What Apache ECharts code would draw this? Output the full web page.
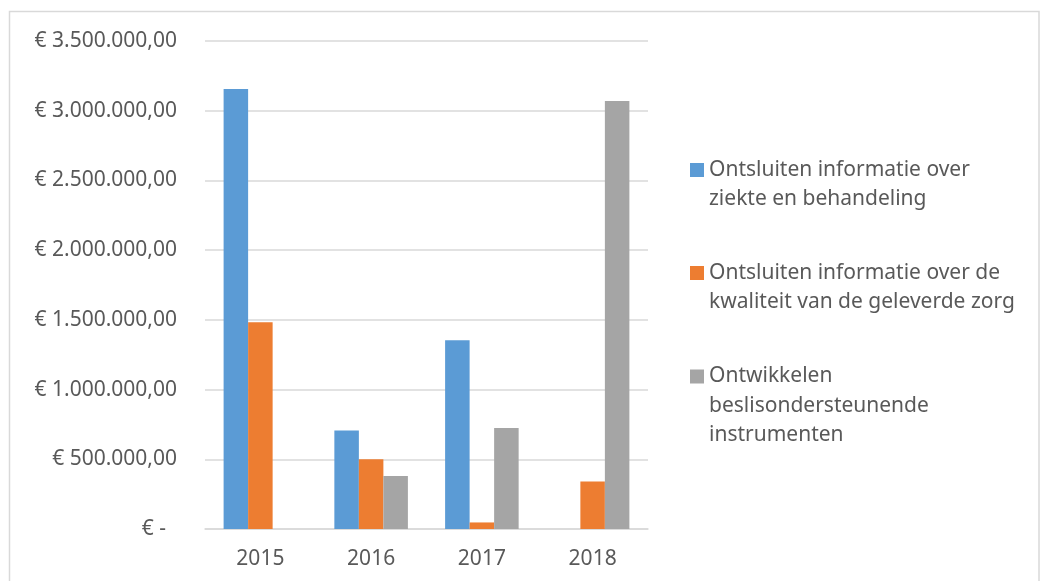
<!DOCTYPE html>
<html>
<head>
<meta charset="utf-8">
<script src="https://cdn.jsdelivr.net/npm/echarts@6/dist/echarts.min.js"></script>
<style>html,body{margin:0;padding:0;background:#fff}</style>
</head>
<body>
<div id="chart" style="width:1042px;height:581px"></div>
<script>
// jaren op de x-as
var years = ['2015', '2016', '2017', '2018'];

var seriesNames = [
    'Ontsluiten informatie over ziekte en behandeling',
    'Ontsluiten informatie over de kwaliteit van de geleverde zorg',
    'Ontwikkelen beslisondersteunende instrumenten'
];
// legenda-tekst zoals in het origineel afgebroken
var legendLines = [
    ['Ontsluiten informatie over', 'ziekte en behandeling'],
    ['Ontsluiten informatie over de', 'kwaliteit van de geleverde zorg'],
    ['Ontwikkelen', 'beslisondersteunende', 'instrumenten']
];

// bedragen in euro per jaar
var ziekteBehandeling = [3155000, 707000, 1354000, 0];
var kwaliteitZorg = [1483000, 500000, 47000, 341000];
var beslisInstrumenten = [0, 380000, 724000, 3070000];

var yMin = 0, yMax = 3500000, yStep = 500000;

var colors = ['#5B9BD5', '#ED7D31', '#A5A5A5'];
var textColor = '#595959';
var font = 'Noto Sans';
var fontSize = 21;

function euro(v) {
    if (v === 0) return '€ -  ';
    var s = Math.round(v).toString().replace(/\B(?=(\d{3})+(?!\d))/g, '.');
    return '€ ' + s + ',00';
}

var myChart = echarts.init(document.getElementById('chart'), null, {renderer: 'canvas'});

var lineH = 29.5;
var legendCenters = [170, 273, 376.5];
// het icoon staat bij de eerste regel: lege regels erboven zetten zodat die regel in het midden valt
var legends = seriesNames.map(function(name, i) {
    var n = legendLines[i].length;
    var pad = new Array(n).join('\n');
    return {
        data: [name],
        orient: 'vertical',
        left: 690,
        top: legendCenters[i] - (2 * n - 1) * lineH / 2,
        padding: 0,
        icon: 'rect',
        itemWidth: 14,
        itemHeight: 14,
        formatter: function() { return pad + legendLines[i].join('\n'); },
        textStyle: {
            fontFamily: font,
            fontSize: fontSize,
            color: textColor,
            lineHeight: lineH
        }
    };
});

var dataSets = [ziekteBehandeling, kwaliteitZorg, beslisInstrumenten];
var series = dataSets.map(function(d, i) {
    return {
        name: seriesNames[i],
        type: 'bar',
        data: d,
        barGap: 0,
        barCategoryGap: '33.6%',
        itemStyle: {color: colors[i]}
    };
});

option = {
    backgroundColor: '#fff',
    animation: false,
    color: colors,
    graphic: [{
        type: 'rect',
        shape: {x: 9.5, y: 11.5, width: 1029.5, height: 620},
        style: {fill: 'none', stroke: '#d9d9d9', lineWidth: 1.5},
        silent: true
    }],
    legend: legends,
    grid: {left: 205, right: 394, top: 41, bottom: 52},
    xAxis: {
        type: 'category',
        data: years,
        axisTick: {show: false},
        axisLine: {lineStyle: {color: '#d9d9d9', width: 1.5}},
        axisLabel: {color: textColor, fontFamily: font, fontSize: fontSize, margin: 20}
    },
    yAxis: {
        type: 'value',
        min: yMin,
        max: yMax,
        interval: yStep,
        axisLine: {show: false},
        axisTick: {show: false},
        splitLine: {lineStyle: {color: '#d9d9d9', width: 1.5}},
        axisLabel: {color: textColor, fontFamily: font, fontSize: fontSize, margin: 28, formatter: euro}
    },
    series: series
};
myChart.setOption(option);
</script>
</body>
</html>
